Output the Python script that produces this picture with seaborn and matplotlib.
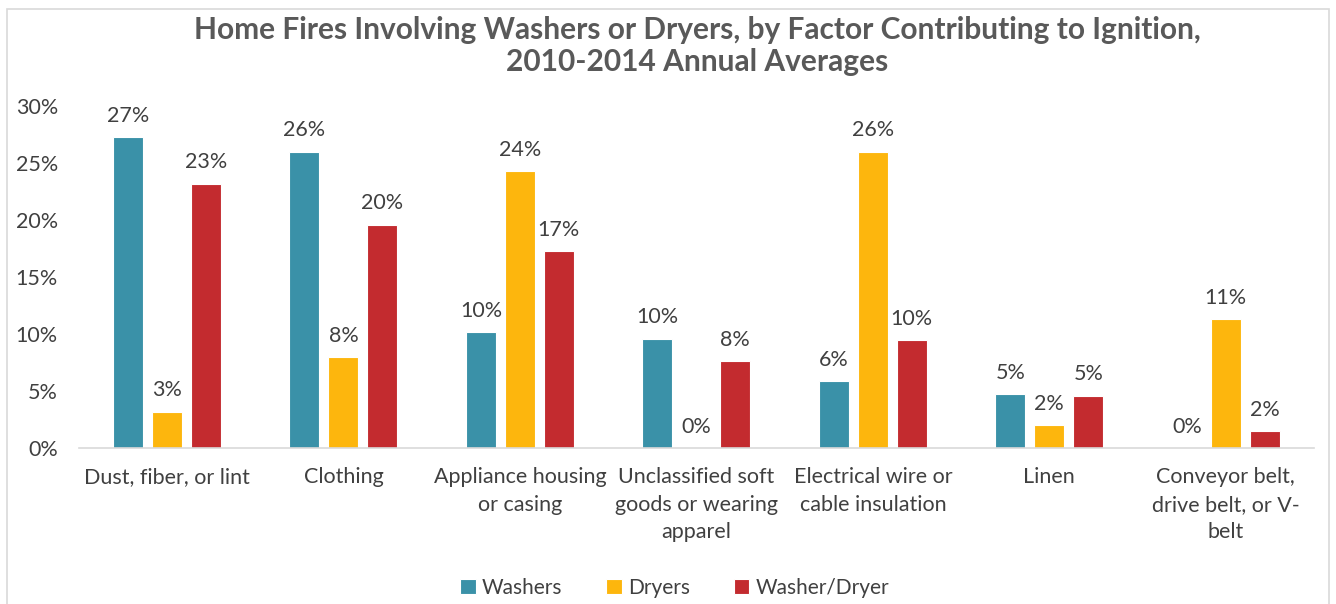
import matplotlib
matplotlib.use("Agg")
import matplotlib.pyplot as plt
from matplotlib.patches import Rectangle
import seaborn as sns
import pandas as pd

# --- data ---
CATEGORIES = ['Dust, fiber, or lint',
              'Clothing',
              'Appliance housing\nor casing',
              'Unclassified soft\ngoods or wearing\napparel',
              'Electrical wire or\ncable insulation',
              'Linen',
              'Conveyor belt,\ndrive belt, or V-\nbelt']
SERIES = ['Washers', 'Dryers', 'Washer/Dryer']
washers = [27.3, 26.0, 10.2, 9.6, 5.9, 4.7, 0.0]
dryers = [3.2, 8.0, 24.3, 0.0, 26.0, 2.0, 11.3]
washer_dryer = [23.2, 19.6, 17.3, 7.6, 9.5, 4.6, 1.5]
COLORS = ['#3A91A8', '#FDB60D', '#C32B2F']
Y_TICKS = [0, 5, 10, 15, 20, 25, 30]

TEXT = '#404040'

df = pd.DataFrame({
    'Factor': CATEGORIES * 3,
    'Type': [SERIES[0]] * 7 + [SERIES[1]] * 7 + [SERIES[2]] * 7,
    'Share': washers + dryers + washer_dryer,
})

sns.set_theme(style='white')
plt.rcParams['font.family'] = ['Lato', 'DejaVu Sans']

fig = plt.figure(figsize=(13.36, 6.04), dpi=100)
ax = fig.add_axes([78.75 / 1336, 1 - 448 / 604, (1314 - 78.75) / 1336, (448 - 106) / 604])

sns.barplot(data=df, x='Factor', y='Share', hue='Type', hue_order=SERIES,
            palette=COLORS, width=0.663, gap=0.23, edgecolor='white',
            linewidth=0.8, saturation=1, ax=ax)

for cont in ax.containers:
    ax.bar_label(cont, labels=[f"{round(b.get_height()):.0f}%" for b in cont],
                 padding=8, fontsize=15.5, color=TEXT)

ax.set_ylim(0, 30)
ax.set_yticks(Y_TICKS)
ax.set_yticklabels([f"{t}%" for t in Y_TICKS])
ax.set_xlabel('')
ax.set_ylabel('')
ax.tick_params(axis='both', length=0, labelsize=15.5, colors=TEXT)
ax.tick_params(axis='y', pad=15)
ax.tick_params(axis='x', pad=14)
for lbl in ax.get_xticklabels():
    lbl.set_verticalalignment('top')
    lbl.set_linespacing(1.45)
for s in ['left', 'right', 'top']:
    ax.spines[s].set_visible(False)
ax.spines['bottom'].set_color('#D9D9D9')
ax.spines['bottom'].set_linewidth(1.2)
ax.grid(False)

fig.text(0.522, 1 - 30 / 604, 'Home Fires Involving Washers or Dryers, by Factor Contributing to Ignition,',
         ha='center', va='center', fontsize=21.5, fontweight='bold', color='#595959')
fig.text(0.522, 1 - 62 / 604, '2010-2014 Annual Averages',
         ha='center', va='center', fontsize=21.5, fontweight='bold', color='#595959')

ax.legend_.remove()
handles, labels = ax.get_legend_handles_labels()
fig.legend(handles, labels, loc='center', bbox_to_anchor=(0.505, 1 - 588 / 604), ncol=3,
           frameon=False, fontsize=15, labelcolor=TEXT, handlelength=0.75,
           handleheight=0.75, handletextpad=0.3, columnspacing=2.1)

# light chart-area frame like the original
fig.patches.append(Rectangle((7 / 1336, -0.1), (1329 - 7) / 1336, 1.1 - 9 / 604,
                             transform=fig.transFigure, fill=False,
                             edgecolor='#D9D9D9', linewidth=1.2))

fig.savefig('out.png', dpi=100)
